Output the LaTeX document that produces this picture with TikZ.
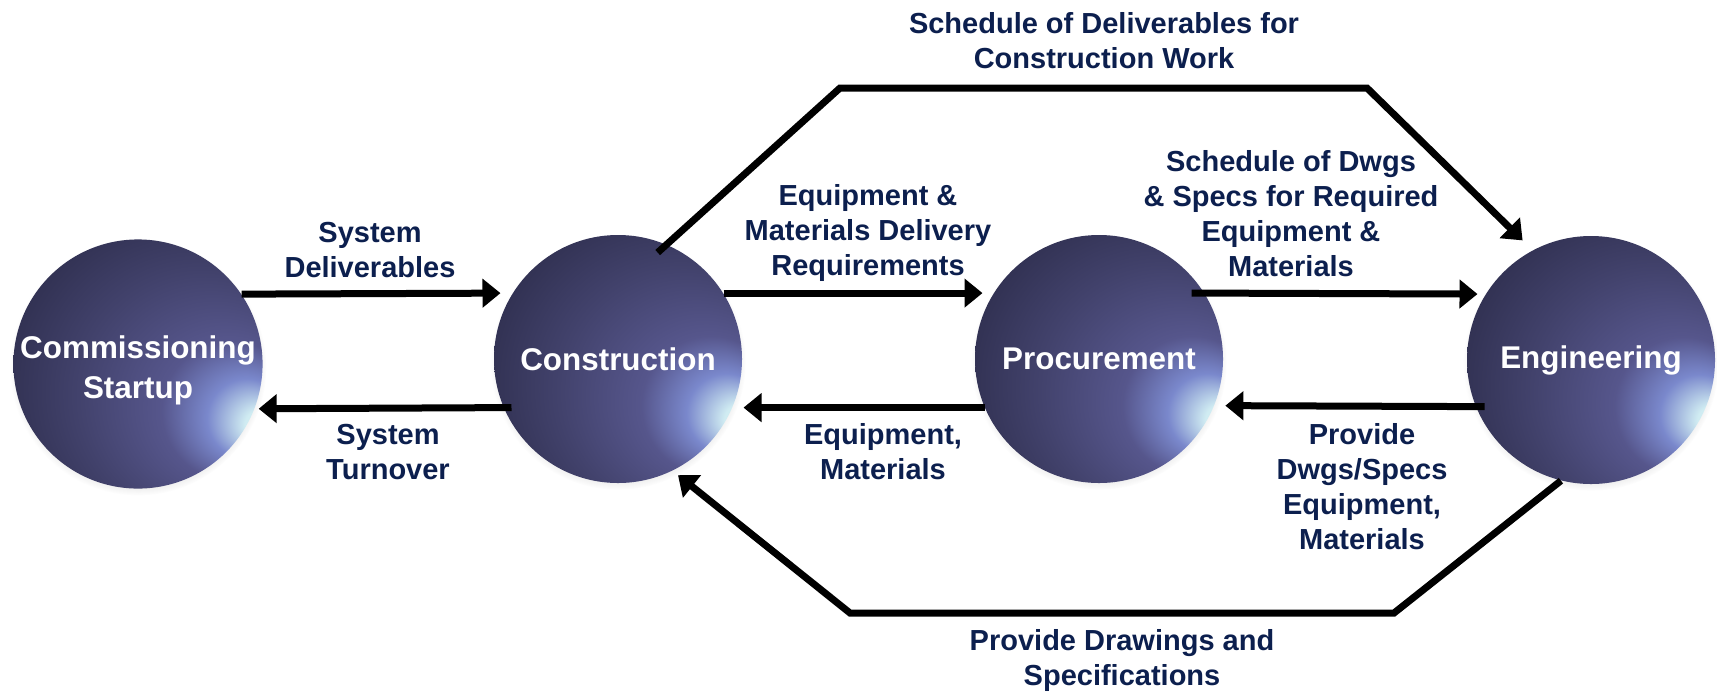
\documentclass[tikz,border=0pt]{standalone}
\usepackage{fontspec}
\setmainfont{Liberation Sans}
\usetikzlibrary{arrows.meta, shadows}
\definecolor{labelnavy}{RGB}{12,31,78}
\definecolor{orbhi}{RGB}{208,236,242}
\definecolor{orbglow}{RGB}{122,136,204}
\definecolor{orbmid}{RGB}{86,86,140}
\definecolor{orbbody}{RGB}{66,66,108}
\definecolor{orbdark}{RGB}{40,40,68}
\definecolor{orbrim}{RGB}{14,14,24}
\pgfdeclareradialshading{orbshade}{\pgfpoint{26bp}{-13bp}}{%
  color(0bp)=(orbhi); color(3bp)=(orbhi); color(8bp)=(orbglow);
  color(14bp)=(orbmid); color(25bp)=(orbbody); color(40bp)=(orbdark);
  color(46bp)=(orbdark!60!orbrim); color(50bp)=(orbrim)}
\tikzset{sphere/.style={circle, shading=orbshade, minimum size=124pt, inner sep=0pt,
    circular drop shadow={shadow xshift=0pt, shadow yshift=-1.5pt, shadow scale=1.03, opacity=0.3},
    text=white, font=\fontsize{15.7}{20}\selectfont\bfseries, align=center}}
\tikzset{flow/.style={line width=3.5pt, color=black, -{Triangle[length=9pt, width=14pt]}}}
\tikzset{lbl/.style={text=labelnavy, font=\fontsize{14.5}{17.5}\selectfont\bfseries, align=center}}

\begin{document}
\begin{tikzpicture}[x=0.5pt, y=-0.5pt]%{{{
        \useasboundingbox (0,0) rectangle (1717,692);

        \node[sphere, text height=38pt] (comm) at (138, 364) {Commissioning\\Startup};
        \node[sphere] (constr) at (618, 359) {Construction};
        \node[sphere] (proc) at (1099, 359) {Procurement};
        \node[sphere] (eng) at (1591, 360) {Engineering};

        \coordinate (topl) at (840, 88);
        \coordinate (topr) at (1367, 88);
        \coordinate (botr) at (1394, 613);
        \coordinate (botl) at (850, 613);

        \draw [flow, shorten >=6pt] (comm.34) -- (constr.148);
        \draw [flow, shorten <=-4pt, shorten >=2pt] (constr.203) -- (comm.-21);
        \draw [flow, shorten >=5.5pt] (constr.32) -- (proc.148);
        \draw [flow, shorten >=5.5pt] (proc.203) -- (constr.-23);
        \draw [flow, shorten <=-6.5pt, shorten >=4pt] (proc.32) -- (eng.148);
        \draw [flow, shorten <=-4.5pt, shorten >=5.5pt] (eng.202) -- (proc.-22);
        \draw [flow, shorten <=-6pt, shorten >=7pt] (constr.67) -- (topl) -- (topr) -- (eng.118);
        \draw [flow, shorten >=3.5pt] (eng.256) -- (botr) -- (botl) -- (constr.-64);

        \node[lbl] (sysdel) at (370, 250) {System\\Deliverables};
        \node[lbl] (systurn) at (388, 452) {System\\Turnover};
        \node[lbl] (eqdel) at (868, 233) {Equipment \&\\Materials Delivery\\Requirements};
        \node[lbl] (eqmat) at (883, 452) {Equipment,\\Materials};
        \node[lbl] (dwgsched) at (1291, 214) {Schedule of Dwgs\\\& Specs for Required\\Equipment \&\\Materials};
        \node[lbl] (dwgprov) at (1362, 487) {Provide\\Dwgs/Specs\\Equipment,\\Materials};
        \node[lbl] (delsched) at (1104, 41) {Schedule of Deliverables for\\Construction Work};
        \node[lbl] (drwprov) at (1122, 660) {Provide Drawings and\\Specifications};

\end{tikzpicture}
\end{document}
